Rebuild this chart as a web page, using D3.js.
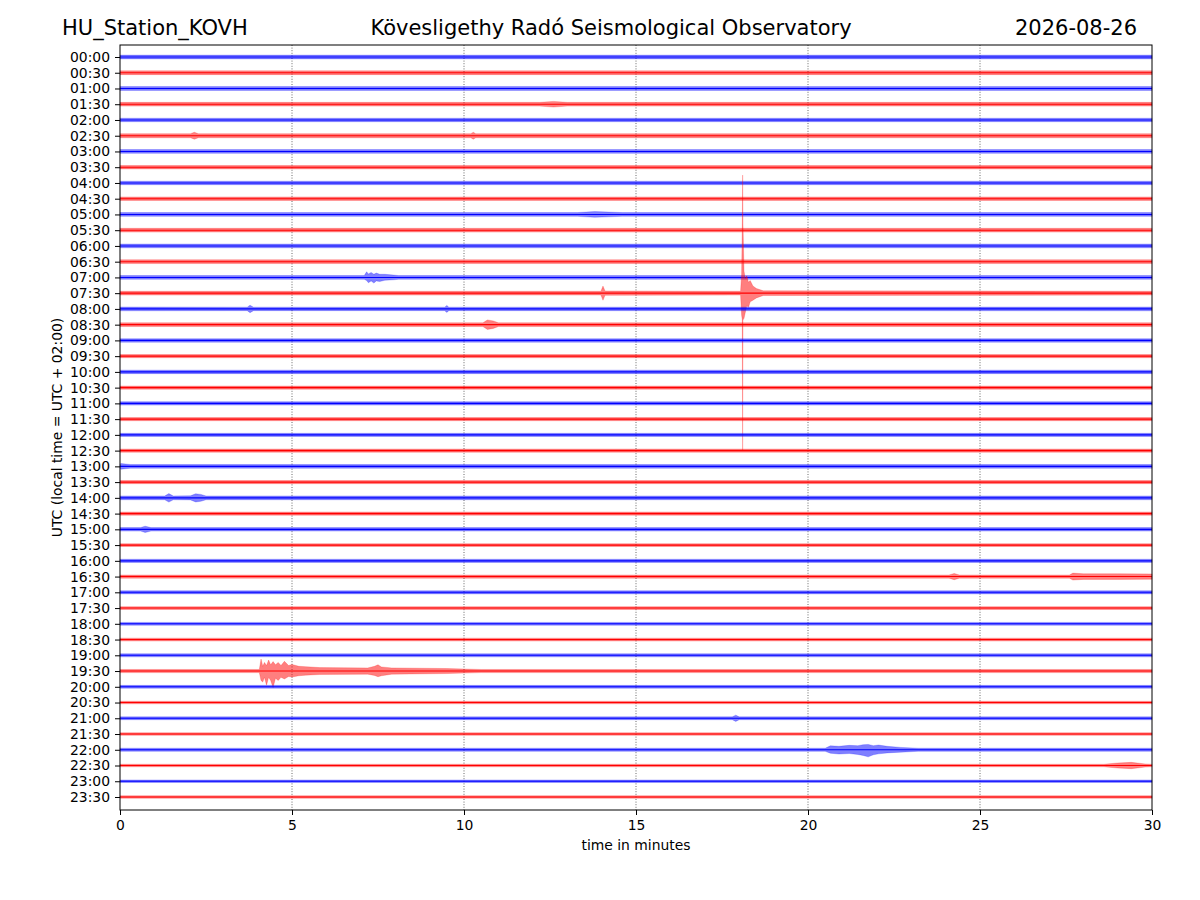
<!DOCTYPE html>
<html>
<head>
<meta charset="utf-8">
<script src="https://cdn.jsdelivr.net/npm/d3@7"></script>
<style>
  body { margin: 0; background: #fff; }
  svg { font-family: "DejaVu Sans", sans-serif; }
</style>
</head>
<body>
<div id="main"></div>
<script>
// row labels (one trace per 30 minutes)
const rowLabels = ['00:00','00:30','01:00','01:30','02:00','02:30','03:00','03:30',
    '04:00','04:30','05:00','05:30','06:00','06:30','07:00','07:30',
    '08:00','08:30','09:00','09:30','10:00','10:30','11:00','11:30',
    '12:00','12:30','13:00','13:30','14:00','14:30','15:00','15:30',
    '16:00','16:30','17:00','17:30','18:00','18:30','19:00','19:30',
    '20:00','20:30','21:00','21:30','22:00','22:30','23:00','23:30'];
const rowColors = ['#0000ff', '#ff0000'];
const xTicks = [0, 5, 10, 15, 20, 25, 30];
const gridMinutes = [5, 10, 15, 20, 25];

// quiet noise half-width of each trace (in trace spacings)
const baseNoise = [0.12,0.12,0.12,0.12,0.11,0.13,0.12,0.11,
    0.11,0.11,0.12,0.12,0.12,0.12,0.12,0.12,
    0.12,0.12,0.11,0.1,0.11,0.1,0.11,0.1,
    0.1,0.1,0.12,0.1,0.12,0.1,0.11,0.09,
    0.1,0.1,0.1,0.09,0.09,0.09,0.1,0.1,
    0.09,0.08,0.09,0.08,0.1,0.08,0.08,0.08];

// envelopes of events: row, then [minute, up, down]
const events = [
    { row: 14, pts: [[7.1,0.12,0.12],[7.17,0.36,0.2],[7.22,0.22,0.34],[7.3,0.32,0.22],[7.38,0.2,0.36],[7.45,0.28,0.22],[7.55,0.2,0.26],[7.7,0.2,0.18],[7.95,0.15,0.15],[8.1,0.12,0.12]] },
    { row: 15, pts: [[13.98,0.12,0.12],[14.04,0.45,0.45],[14.1,0.14,0.14]] },
    { row: 15, pts: [[18.04,0.12,0.12],[18.07,1.2,1.4],[18.09,4.4,1.7],[18.1,7.5,10],[18.11,4.4,1.7],[18.14,1.4,1.6],[18.18,0.9,1.2],[18.22,1.1,0.8],[18.27,0.7,0.9],[18.32,0.8,0.55],[18.4,0.45,0.45],[18.5,0.3,0.3],[18.7,0.15,0.15]] },
    { row: 16, pts: [[3.7,0.11,0.11],[3.78,0.24,0.24],[3.88,0.11,0.11]] },
    { row: 16, pts: [[9.44,0.11,0.11],[9.5,0.22,0.22],[9.56,0.11,0.11]] },
    { row: 17, pts: [[10.55,0.12,0.12],[10.68,0.3,0.3],[10.85,0.24,0.24],[11.0,0.12,0.12]] },
    { row: 5,  pts: [[2.05,0.13,0.13],[2.16,0.22,0.22],[2.28,0.13,0.13]] },
    { row: 5,  pts: [[10.2,0.13,0.13],[10.27,0.22,0.22],[10.34,0.13,0.13]] },
    { row: 3,  pts: [[12.2,0.12,0.12],[12.6,0.18,0.18],[13.0,0.12,0.12]] },
    { row: 10, pts: [[13.3,0.12,0.12],[13.8,0.18,0.18],[14.6,0.12,0.12]] },
    { row: 26, pts: [[0.02,0.18,0.18],[0.3,0.12,0.12]] },
    { row: 28, pts: [[1.3,0.12,0.12],[1.42,0.27,0.27],[1.55,0.12,0.12],[2.05,0.13,0.13],[2.2,0.26,0.26],[2.35,0.22,0.22],[2.5,0.12,0.12]] },
    { row: 30, pts: [[0.6,0.11,0.11],[0.73,0.2,0.2],[0.9,0.11,0.11]] },
    { row: 33, pts: [[24.1,0.1,0.1],[24.25,0.2,0.2],[24.4,0.1,0.1]] },
    { row: 33, pts: [[27.6,0.1,0.1],[27.7,0.22,0.22],[28.0,0.18,0.18],[29.0,0.18,0.18],[30,0.17,0.17]] },
    { row: 39, pts: [[4.05,0.1,0.1],[4.1,0.76,0.6],[4.15,0.3,0.7],[4.2,0.55,0.4],[4.26,0.35,0.9],[4.32,0.7,0.4],[4.38,0.4,0.6],[4.45,0.6,1.05],[4.52,0.4,0.45],[4.6,0.55,0.6],[4.68,0.35,0.4],[4.78,0.62,0.5],[4.9,0.35,0.35],[5.0,0.42,0.38],[5.2,0.3,0.3],[5.4,0.28,0.26],[5.8,0.22,0.22],[7.2,0.2,0.2],[7.4,0.3,0.28],[7.5,0.4,0.36],[7.6,0.26,0.3],[7.9,0.2,0.2],[9.5,0.16,0.16],[10.5,0.1,0.1]] },
    { row: 44, pts: [[20.5,0.1,0.1],[20.65,0.25,0.22],[20.9,0.22,0.27],[21.2,0.28,0.24],[21.45,0.26,0.3],[21.6,0.32,0.36],[21.75,0.34,0.45],[21.9,0.26,0.32],[22.05,0.3,0.26],[22.3,0.22,0.2],[22.7,0.15,0.15],[23.2,0.1,0.1]] },
    { row: 45, pts: [[28.6,0.08,0.08],[29.0,0.16,0.16],[29.4,0.2,0.2],[29.8,0.1,0.1]] },
    { row: 42, pts: [[17.8,0.09,0.09],[17.9,0.2,0.2],[18.0,0.09,0.09]] }
];

const margin = { left: 120, right: 1152, top: 45, bottom: 810 };

const svg = d3.select('#main').append('svg')
    .attr('width', 1200)
    .attr('height', 900);

const x = d3.scaleLinear().domain([0, 30]).range([margin.left, margin.right]);
const y = d3.scaleLinear().domain([0, 47]).range([57, 797]);
const unit = y(1) - y(0);

// vertical dotted grid
svg.append('g')
    .selectAll('line')
    .data(gridMinutes)
    .join('line')
    .attr('x1', d => x(d)).attr('x2', d => x(d))
    .attr('y1', margin.top).attr('y2', margin.bottom)
    .attr('stroke', '#444')
    .attr('stroke-width', 0.8)
    .attr('stroke-dasharray', '1,1.6');

function rowEnvelope(i) {
    var pts = [[0, baseNoise[i], baseNoise[i]]];
    events.filter(e => e.row === i).forEach(e => { pts = pts.concat(e.pts); });
    pts.push([30, baseNoise[i], baseNoise[i]]);
    pts.sort((a, b) => a[0] - b[0]);
    return pts;
}

const traces = svg.append('g');
rowLabels.forEach((lab, i) => {
    const color = rowColors[i % 2];
    const env = rowEnvelope(i);
    const area = d3.area()
        .x(d => x(d[0]))
        .y0(d => y(i) + d[2] * unit)
        .y1(d => y(i) - d[1] * unit);
    traces.append('path')
        .datum(env)
        .attr('d', area)
        .attr('fill', color)
        .attr('fill-opacity', 0.5)
        .attr('stroke', color)
        .attr('stroke-opacity', 0.35)
        .attr('stroke-width', 0.6);
    traces.append('line')
        .attr('x1', x(0)).attr('x2', x(30))
        .attr('y1', y(i)).attr('y2', y(i))
        .attr('stroke', color)
        .attr('stroke-width', 1.1);
});

// frame
svg.append('rect')
    .attr('x', margin.left).attr('y', margin.top)
    .attr('width', margin.right - margin.left)
    .attr('height', margin.bottom - margin.top)
    .attr('fill', 'none')
    .attr('stroke', '#000')
    .attr('stroke-width', 1);

const yAxis = svg.append('g')
    .attr('transform', `translate(${margin.left},0)`)
    .call(d3.axisLeft(y).tickValues(d3.range(rowLabels.length)).tickFormat(i => rowLabels[i]).tickSize(5).tickPadding(5));
yAxis.select('.domain').remove();

const xAxis = svg.append('g')
    .attr('transform', `translate(0,${margin.bottom})`)
    .call(d3.axisBottom(x).tickValues(xTicks).tickFormat(d3.format('d')).tickSize(5).tickPadding(5));
xAxis.select('.domain').remove();

svg.selectAll('.tick text')
    .attr('font-family', '"DejaVu Sans", sans-serif')
    .attr('font-size', 13.9)
    .attr('fill', '#000');
svg.selectAll('.tick line').attr('stroke', '#000');

svg.append('text')
    .attr('x', (margin.left + margin.right) / 2)
    .attr('y', 850)
    .attr('text-anchor', 'middle')
    .attr('font-size', 13.9)
    .text('time in minutes');

svg.append('text')
    .attr('transform', `translate(62,${(margin.top + margin.bottom) / 2}) rotate(-90)`)
    .attr('text-anchor', 'middle')
    .attr('font-size', 13.9)
    .text('UTC (local time = UTC + 02:00)');

// titles
svg.append('text')
    .attr('x', 62).attr('y', 35)
    .attr('font-size', 21)
    .text('HU_Station_KOVH');
svg.append('text')
    .attr('x', 611).attr('y', 35)
    .attr('text-anchor', 'middle')
    .attr('font-size', 21)
    .text('Kövesligethy Radó Seismological Observatory');
svg.append('text')
    .attr('x', 1137).attr('y', 35)
    .attr('text-anchor', 'end')
    .attr('font-size', 21)
    .text('2026-08-26');
</script>
</body>
</html>
